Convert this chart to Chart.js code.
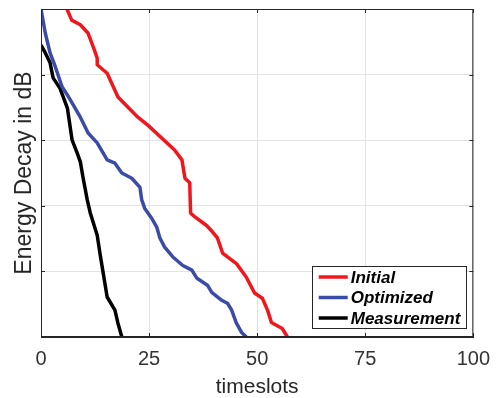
<!DOCTYPE html>
<html>
<head>
<meta charset="utf-8">
<script src="https://cdn.jsdelivr.net/npm/chart.js@4.4.1/dist/chart.umd.min.js"></script>
<style>
  html, body { margin: 0; padding: 0; background: #ffffff; }
  #grafico { display: block; }
</style>
</head>
<body>
<canvas id="grafico" width="500" height="398"></canvas>
<script>
// Eixo X (timeslots) e marcas
const xTicks = [0, 25, 50, 75, 100];
const yMin = -50, yMax = 0, yStep = 10;

// Curvas (x = timeslot, y = decaimento em dB)
const initialX = [6.0, 7.1, 9.1, 10.9, 12.1, 13.0, 13.0, 15.3, 17.8, 22.4, 24.7, 29.1, 30.9, 32.6, 33.3, 34.4, 34.6, 35.6, 38.3, 39.7, 40.8, 42.0, 45.2, 47.5, 49.4, 51.2, 52.4, 53.3, 55.8, 57.0];
const initialY = [0, -1.7, -2.4, -3.7, -5.8, -7.5, -8.5, -9.8, -13.4, -16.5, -17.7, -20.4, -21.5, -23.0, -25.8, -26.5, -31.1, -31.7, -33.0, -34.0, -34.9, -37.2, -38.8, -40.9, -43.3, -44.1, -45.9, -47.8, -48.7, -50];

const optimizedX = [0, 1.0, 2.1, 3.3, 4.9, 6.1, 9.1, 10.9, 13.0, 15.3, 17.1, 18.7, 21.0, 22.9, 23.3, 24.0, 25.6, 26.8, 27.5, 28.6, 30.5, 32.8, 34.9, 36.0, 38.5, 39.5, 41.8, 43.2, 44.1, 45.2, 46.4, 47.5];
const optimizedY = [0, -3.7, -6.7, -8.8, -11.9, -13.1, -16.5, -18.9, -20.4, -23.0, -23.5, -25.0, -25.8, -27.2, -29.1, -30.4, -31.9, -33.3, -34.9, -36.3, -37.8, -39.1, -39.8, -41.0, -42.1, -43.2, -44.4, -44.9, -45.9, -47.9, -49.3, -50];

const measurementX = [0, 1.0, 2.1, 2.8, 4.4, 6.1, 7.2, 8.4, 9.1, 9.7, 10.7, 11.4, 13.0, 13.7, 14.4, 15.3, 17.1, 17.8, 18.7];
const measurementY = [-5.5, -6.7, -8.2, -10.5, -12.1, -15.1, -20.0, -22.0, -23.3, -25.6, -29.1, -31.1, -34.5, -37.5, -40.3, -43.9, -45.9, -47.9, -50];

const seriesNames = ['Initial', 'Optimized', 'Measurement'];
const seriesColors = ['#f2161c', '#3a4ca8', '#000000'];

const axisColor = '#262626';

function juntarPontos(xs, ys) {
    return xs.map((x, i) => ({ x: x, y: ys[i] }));
}

// Moldura completa, marcas internas e legenda dentro da area do grafico
const molduraELegenda = {
    id: 'molduraELegenda',
    afterDatasetsDraw(chart) {
        const ctx = chart.ctx;
        const area = chart.chartArea;
        const sx = chart.scales.x;
        const sy = chart.scales.y;
        ctx.save();

        // caixa
        ctx.strokeStyle = axisColor;
        ctx.lineWidth = 1;
        ctx.strokeRect(area.left + 0.5, area.top + 0.5, area.right - area.left - 1, area.bottom - area.top - 1);

        // marcas viradas pra dentro
        const tam = 4;
        ctx.beginPath();
        xTicks.forEach(v => {
            const px = Math.round(sx.getPixelForValue(v)) + 0.5;
            ctx.moveTo(px, area.bottom); ctx.lineTo(px, area.bottom - tam);
            ctx.moveTo(px, area.top); ctx.lineTo(px, area.top + tam);
        });
        for (let v = yMin; v <= yMax; v += yStep) {
            const py = Math.round(sy.getPixelForValue(v)) + 0.5;
            ctx.moveTo(area.left, py); ctx.lineTo(area.left + tam, py);
            ctx.moveTo(area.right, py); ctx.lineTo(area.right - tam, py);
        }
        ctx.stroke();

        // legenda
        ctx.font = 'italic bold 17px "Liberation Sans", Arial, sans-serif';
        let maiorTexto = 0;
        chart.data.datasets.forEach(ds => {
            maiorTexto = Math.max(maiorTexto, ctx.measureText(ds.label).width);
        });
        const largura = 7 + 29 + 3 + maiorTexto + 5;
        const altura = 62;
        const direita = area.right - 8;
        const baixo = area.bottom - 9;
        const esq = direita - largura;
        const topo = baixo - altura;

        ctx.fillStyle = '#ffffff';
        ctx.fillRect(esq, topo, largura, altura);
        ctx.strokeStyle = axisColor;
        ctx.strokeRect(Math.round(esq) + 0.5, Math.round(topo) + 0.5, Math.round(largura), Math.round(altura));

        ctx.textBaseline = 'middle';
        ctx.textAlign = 'left';
        chart.data.datasets.forEach((ds, i) => {
            const cy = topo + 11 + i * 20.5;
            ctx.strokeStyle = ds.borderColor;
            ctx.lineWidth = 3.5;
            ctx.beginPath();
            ctx.moveTo(esq + 7, cy);
            ctx.lineTo(esq + 36, cy);
            ctx.stroke();
            ctx.fillStyle = '#000000';
            ctx.fillText(ds.label, esq + 39, cy + 1);
        });

        ctx.restore();
    }
};

const ctx = document.getElementById('grafico').getContext('2d');

new Chart(ctx, {
    type: 'line',
    data: {
        datasets: [
            { label: seriesNames[0], data: juntarPontos(initialX, initialY), borderColor: seriesColors[0] },
            { label: seriesNames[1], data: juntarPontos(optimizedX, optimizedY), borderColor: seriesColors[1] },
            { label: seriesNames[2], data: juntarPontos(measurementX, measurementY), borderColor: seriesColors[2] }
        ]
    },
    options: {
        responsive: false,
        animation: false,
        devicePixelRatio: 1,
        layout: { padding: { top: 9, right: 25, bottom: 0, left: 0 } },
        elements: {
            line: { borderWidth: 3.5, tension: 0, borderJoinStyle: 'round', borderCapStyle: 'butt' },
            point: { radius: 0, hoverRadius: 0 }
        },
        plugins: {
            legend: { display: false },
            tooltip: { enabled: false }
        },
        scales: {
            x: {
                type: 'linear',
                min: 0,
                max: 100,
                afterBuildTicks: (scale) => { scale.ticks = xTicks.map(v => ({ value: v })); },
                afterFit: (scale) => { scale.height = 61; },
                grid: { color: '#e3e3e3', drawTicks: false },
                border: { color: axisColor, width: 1 },
                ticks: {
                    padding: 10,
                    color: '#333333',
                    font: { family: '"Liberation Sans", Arial, sans-serif', size: 20 }
                },
                title: {
                    display: true,
                    text: 'timeslots',
                    color: '#262626',
                    padding: 0,
                    font: { family: '"Liberation Sans", Arial, sans-serif', size: 21, lineHeight: 1 }
                }
            },
            y: {
                type: 'linear',
                min: yMin,
                max: yMax,
                afterFit: (scale) => { scale.width = 41; },
                grid: { color: '#e3e3e3', drawTicks: false },
                border: { color: axisColor, width: 1 },
                ticks: { display: false, stepSize: yStep },
                title: {
                    display: true,
                    text: 'Energy Decay in dB',
                    color: '#262626',
                    padding: { top: 13, bottom: 0 },
                    font: { family: '"Liberation Sans", Arial, sans-serif', size: 23, lineHeight: 1 }
                }
            }
        }
    },
    plugins: [molduraELegenda]
});
</script>
</body>
</html>
